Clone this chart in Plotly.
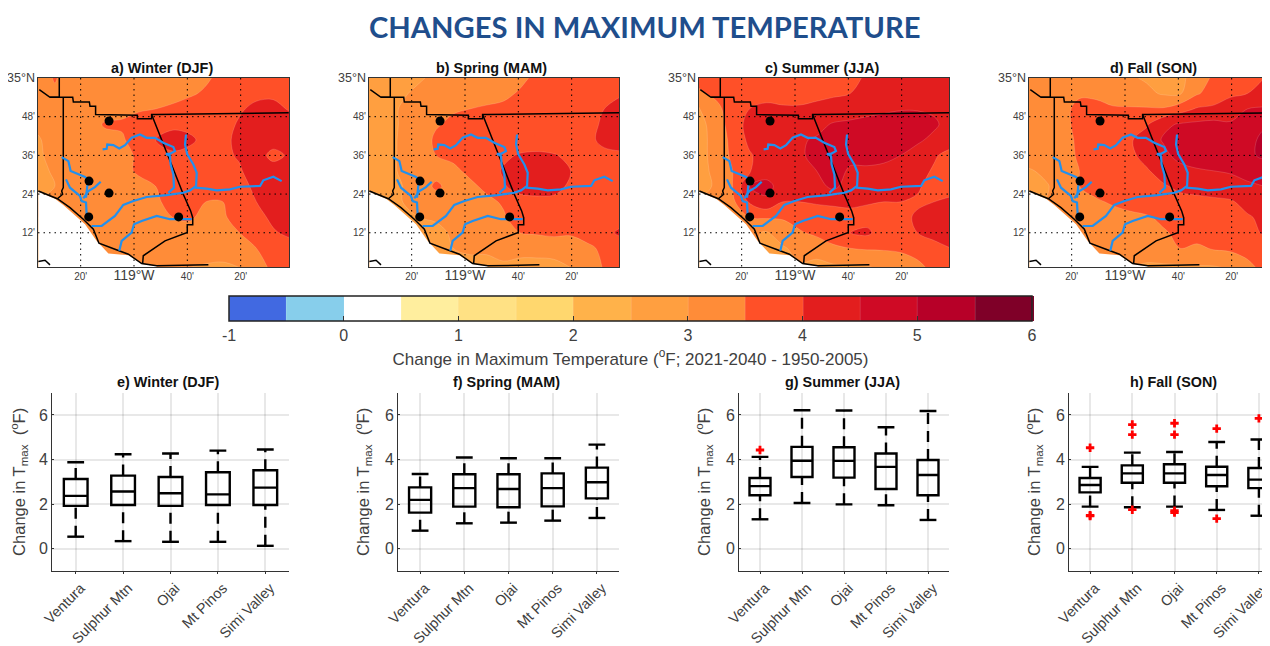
import plotly.graph_objects as go

# the page has an 8 px body margin: the chart area is the window less that margin
PAGE_OFFSET = 8
W, H = 1270 - PAGE_OFFSET, 646 - PAGE_OFFSET

lon_grid = [-119.60, -119.495, -119.39, -119.285, -119.18, -119.075, -118.97, -118.865,
            -118.76, -118.655, -118.55, -118.445, -118.34, -118.235, -118.13, -118.025]
lat_grid = [35.0, 34.92, 34.84, 34.76, 34.68, 34.60, 34.52, 34.44, 34.36, 34.28, 34.20, 34.12, 34.02]

z_winter = [
 [3.2,3.55,3.2,3.2,3.2,3.2,3.2,3.25,3.3,3.35,3.45,3.6,3.8,3.8,3.8,3.8],
 [3.2,3.4,3.2,3.25,3.3,3.3,3.3,3.35,3.4,3.45,3.55,3.7,3.85,3.9,3.9,3.85],
 [3.2,3.2,3.25,3.3,3.3,3.4,3.45,3.5,3.55,3.65,3.7,3.8,3.95,4.1,4.15,3.95],
 [3.1,3.2,3.3,3.3,3.55,3.55,3.7,3.75,3.85,3.85,3.8,3.85,4.05,4.2,4.3,4.2],
 [2.95,3.2,3.3,3.35,3.35,3.45,3.7,4.0,4.25,4.1,3.85,3.9,4.1,4.3,4.3,4.3],
 [2.95,3.1,3.3,3.3,3.3,3.4,3.55,3.8,3.9,3.85,3.85,3.9,4.05,4.3,3.8,4.1],
 [2.9,3.05,3.3,3.3,3.3,3.4,3.55,3.75,3.85,3.85,3.85,3.85,3.95,4.25,4.3,4.3],
 [2.9,3.0,3.3,3.3,3.3,3.35,3.4,3.5,3.8,3.85,3.8,3.8,3.85,4.1,4.3,4.3],
 [3.0,3.1,3.2,3.3,3.3,3.3,3.35,3.45,3.6,3.55,3.5,3.5,3.75,4.0,4.3,4.3],
 [3.0,3.1,3.25,3.3,3.3,3.3,3.3,3.35,3.5,3.55,3.4,3.45,3.65,3.85,4.1,4.3],
 [3.0,3.0,3.2,3.25,3.25,3.25,3.25,3.25,3.3,3.35,3.3,3.35,3.5,3.75,3.95,4.1],
 [3.0,3.0,3.1,3.2,3.2,3.2,3.2,3.2,3.2,3.2,3.2,3.25,3.35,3.5,3.65,3.8],
 [3.0,3.0,3.0,3.1,3.1,3.1,3.1,3.1,3.1,3.0,2.95,2.9,3.0,3.3,3.6,3.7],
]
z_spring = [
 [2.75,2.75,2.8,2.95,3.1,3.15,3.2,3.25,3.3,3.4,3.6,3.7,3.75,3.75,3.75,3.75],
 [2.75,2.75,2.95,3.1,3.2,3.25,3.3,3.35,3.4,3.55,3.65,3.7,3.75,3.8,3.85,3.95],
 [2.7,2.85,3.05,3.15,3.3,3.45,3.5,3.55,3.6,3.65,3.7,3.75,3.75,3.8,4.0,4.2],
 [2.7,2.85,3.05,3.2,3.45,3.6,3.7,3.7,3.7,3.7,3.7,3.7,3.75,3.8,4.1,4.25],
 [2.7,2.9,3.05,3.2,3.6,3.7,3.75,3.75,3.75,3.7,3.7,3.6,3.75,3.85,4.15,4.25],
 [2.7,2.9,3.05,3.2,3.5,3.6,3.7,3.8,3.9,4.05,4.1,4.05,3.85,3.8,3.85,3.9],
 [2.7,2.9,3.05,3.2,3.3,3.4,3.6,3.75,4.05,4.25,4.25,4.2,4.0,3.8,3.75,3.75],
 [2.7,2.9,3.0,3.2,3.6,3.3,3.4,3.6,3.95,4.2,4.25,4.2,3.9,3.75,3.7,3.7],
 [2.8,2.9,3.0,3.1,3.2,3.25,3.3,3.4,3.55,3.8,3.85,3.85,3.8,3.7,3.7,3.75],
 [2.8,2.85,2.9,3.0,3.05,3.1,3.2,3.3,3.45,3.7,3.75,3.75,3.7,3.7,3.75,3.8],
 [2.8,2.8,2.8,2.85,2.9,3.05,3.15,3.25,3.45,3.5,3.55,3.6,3.55,3.7,3.85,4.1],
 [2.8,2.8,2.8,2.75,2.8,3.0,3.05,3.05,3.1,3.15,3.15,3.2,3.3,3.4,3.6,3.7],
 [2.8,2.8,2.8,2.8,2.8,2.85,2.9,2.9,2.95,2.85,2.85,2.85,3.0,3.15,3.55,3.6],
]
z_summer = [
 [3.7,3.75,3.75,3.75,3.75,3.75,3.75,3.8,3.85,3.9,4.05,4.1,4.15,4.2,4.2,4.2],
 [3.4,3.65,3.85,3.85,3.85,3.85,3.85,3.9,3.95,4.0,4.15,4.2,4.2,4.25,4.25,4.2],
 [2.95,3.3,3.85,4.0,4.1,4.05,4.05,4.1,4.15,4.25,4.3,4.35,4.45,4.45,4.4,4.25],
 [2.85,3.2,3.75,4.15,4.3,4.3,4.3,4.35,4.55,4.6,4.7,4.85,4.9,4.85,4.6,4.25],
 [2.85,3.15,3.65,4.1,4.3,4.3,4.45,4.55,4.75,4.8,4.85,4.85,4.8,4.6,4.35,4.2],
 [2.85,3.15,3.6,3.95,4.2,4.25,4.45,4.6,4.55,4.6,4.7,4.65,4.5,4.25,4.05,3.85],
 [2.85,3.1,3.5,3.95,4.3,4.25,4.3,4.5,4.65,4.45,4.4,4.35,4.3,4.15,3.95,3.8],
 [2.85,3.05,3.5,4.5,4.65,4.3,4.2,4.35,4.6,4.3,4.25,4.2,4.15,4.05,3.85,3.8],
 [3.0,3.1,3.4,4.05,4.4,4.0,4.0,4.05,4.1,4.1,4.05,4.0,4.0,3.95,4.0,4.1],
 [3.0,3.1,3.3,3.5,3.55,3.55,3.7,3.75,3.75,3.85,3.8,3.75,3.9,4.05,4.15,4.25],
 [3.0,3.0,3.1,3.1,2.95,3.25,3.45,3.6,3.65,4.0,4.1,3.75,3.85,4.0,4.15,4.2],
 [3.0,3.0,3.0,3.1,2.9,2.95,3.15,3.2,3.45,3.5,3.55,3.55,3.6,3.65,3.85,4.0],
 [3.0,3.0,3.0,3.0,3.0,2.9,2.95,2.85,2.9,2.9,2.95,3.1,3.15,3.4,3.6,3.75],
]
z_fall = [
 [3.25,3.25,3.2,3.2,3.15,3.1,3.05,2.95,2.9,2.9,3.2,3.6,3.8,3.9,4.0,4.1],
 [3.2,3.2,3.25,3.45,3.4,3.3,3.2,3.1,2.95,2.95,3.45,3.7,3.9,4.0,4.2,4.3],
 [3.2,3.2,3.4,3.6,3.65,3.55,3.55,3.55,3.55,3.8,4.05,4.1,4.3,4.5,4.55,4.6],
 [3.2,3.25,3.4,3.6,3.7,3.75,3.75,3.95,4.4,4.55,4.6,4.65,4.55,4.6,4.9,5.0],
 [3.25,3.25,3.3,3.6,3.7,3.75,3.95,4.2,4.55,4.75,4.85,4.75,4.6,4.75,5.2,5.1],
 [3.25,3.25,3.35,3.55,3.7,3.75,3.9,4.15,4.35,4.7,4.75,4.85,4.85,4.95,5.05,5.05],
 [2.95,3.1,3.3,3.5,3.7,3.75,3.8,3.95,4.2,4.3,4.45,4.5,4.55,4.7,4.85,4.9],
 [2.8,2.95,3.2,3.5,3.65,3.7,3.75,3.8,3.95,4.1,4.2,4.25,4.3,4.4,4.5,4.6],
 [3.0,3.0,3.15,3.35,3.45,3.55,3.65,3.75,3.8,3.85,3.85,3.9,3.95,4.15,4.3,4.4],
 [3.0,3.0,3.1,3.2,3.3,3.35,3.4,3.45,3.6,3.75,3.75,3.8,3.8,3.95,4.1,4.2],
 [3.0,3.0,3.0,3.1,3.1,3.1,3.2,3.3,3.45,3.6,3.75,3.7,3.75,3.85,4.05,4.15],
 [3.0,3.0,3.0,3.05,3.05,3.1,3.1,3.3,3.4,3.5,3.4,3.55,3.6,3.7,3.8,3.85],
 [3.0,3.0,3.0,3.0,3.0,3.0,3.0,2.9,2.9,2.9,2.95,2.95,3.05,3.35,3.65,3.7],
]

level_colors = ["#4169E1", "#87CEEB", "#FFFFFF", "#FFEE9E", "#FFE184", "#FFD76E", "#FFB24A",
                "#FF9F40", "#FF8C38", "#FF5028", "#E31E1E", "#CF0A25", "#B70028", "#7F0028"]

ocean_lon = [-119.598,-119.494,-119.442,-119.306,-119.233,-119.160,-119.035,-118.952,-118.858,-118.858,-119.598]
ocean_lat = [34.412,34.376,34.344,34.244,34.158,34.093,34.084,34.038,34.027,34.02,34.02]

border_lon = [-119.598,-119.546,-119.479,-119.400,-119.317,-119.254,-119.219,-119.119,-119.035,-118.952,-118.858,-118.535,None,
              -119.592,-119.525,-119.467,-119.467,None,
              -119.525,-119.383,-119.379,-119.279,-119.275,-119.240,-119.240,-118.979,-118.979,-118.890,-118.890,-118.858,-118.033,None,
              -119.442,-119.442,-119.452,-119.446,-119.479,None,
              -118.890,-118.796,-118.692,-118.646,-118.633,-118.633,-118.667,-118.667,-118.806,-118.942,-118.946,None,
              -119.598,-119.556,-119.525]
border_lat = [34.416,34.399,34.376,34.330,34.270,34.218,34.146,34.115,34.089,34.041,34.029,34.034,None,
              34.940,34.900,34.900,35.0,None,
              34.900,34.900,34.876,34.876,34.854,34.854,34.811,34.808,34.789,34.789,34.811,34.811,34.820,None,
              34.900,34.433,34.416,34.399,34.376,None,
              34.811,34.613,34.399,34.313,34.278,34.241,34.241,34.201,34.158,34.081,34.041,None,
              34.052,34.058,34.034]

river_lon = [-119.196,-119.171,-119.167,-119.129,-119.092,-119.056,-119.015,-118.963,-118.921,-118.869,-118.817,-118.754,-118.744,-118.775,-118.800,-118.775,-118.771,-118.754,-118.750,-118.785,None,
             -118.675,-118.681,-118.667,-118.629,-118.608,-118.612,-118.650,-118.692,-118.796,-118.921,-119.004,-119.067,-119.119,-119.171,-119.202,-119.265,None,
             -118.077,-118.129,-118.192,-118.212,-118.338,-118.400,-118.483,-118.546,-118.619,None,
             -119.452,-119.410,-119.396,-119.306,-119.279,-119.292,-119.300,None,
             -119.425,-119.400,-119.338,-119.327,-119.300,-119.296,-119.300,None,
             -119.208,-119.244,-119.285,-119.317,None,
             -119.092,-119.077,-119.015,-119.000,-118.952,-118.858,-118.775,-118.640]
river_lat = [34.631,34.634,34.656,34.653,34.636,34.653,34.691,34.708,34.691,34.691,34.665,34.643,34.622,34.608,34.608,34.596,34.553,34.502,34.433,34.407,None,
             34.708,34.656,34.605,34.553,34.510,34.442,34.419,34.407,34.395,34.385,34.364,34.344,34.287,34.253,34.235,34.235,None,
             34.467,34.490,34.471,34.442,34.438,34.424,34.419,34.428,34.433,None,
             34.591,34.570,34.519,34.488,34.467,34.442,34.381,None,
             34.476,34.433,34.390,34.364,34.356,34.296,34.278,None,
             34.464,34.436,34.416,34.378,None,
             34.107,34.158,34.201,34.244,34.261,34.287,34.270,34.270]

station_lon = [-119.156, -119.281, -119.156, -119.283, -118.721]
station_lat = [34.778, 34.467, 34.405, 34.282, 34.282]

lon_ticks = [-119.3333, -119.0, -118.6667, -118.3333]
lon_labels = ["20'", "<span style='font-size:14px'>119°W</span>", "40'", "20'"]
lat_ticks = [35.0, 34.8, 34.6, 34.4, 34.2]
lat_labels = ["<span style='font-size:12.5px'>35°N</span>", "48'", "36'", "24'", "12'"]
cbar_ticks = [-1, 0, 1, 2, 3, 4, 5, 6]
cbar_labels = ["-1", "0", "1", "2", "3", "4", "5", "6"]

categories = ["Ventura", "Sulphur Mtn", "Ojai", "Mt Pinos", "Simi Valley"]

low_e = [0.54, 0.34, 0.31, 0.31, 0.13]
q1_e = [1.92, 1.96, 1.92, 1.96, 1.96]
med_e = [2.37, 2.57, 2.49, 2.44, 2.74]
q3_e = [3.13, 3.28, 3.22, 3.43, 3.52]
high_e = [3.88, 4.24, 4.27, 4.40, 4.45]

low_f = [0.81, 1.14, 1.17, 1.26, 1.38]
q1_f = [1.62, 1.89, 1.86, 1.90, 2.26]
med_f = [2.19, 2.72, 2.68, 2.72, 2.98]
q3_f = [2.75, 3.34, 3.34, 3.38, 3.64]
high_f = [3.35, 4.09, 4.06, 4.06, 4.67]

low_g = [1.32, 2.05, 1.99, 1.95, 1.29]
q1_g = [2.40, 3.22, 3.19, 2.68, 2.40]
med_g = [2.81, 3.95, 3.94, 3.67, 3.31]
q3_g = [3.17, 4.57, 4.55, 4.27, 3.98]
high_g = [4.12, 6.21, 6.20, 5.45, 6.18]

low_h = [1.89, 1.86, 1.89, 1.74, 1.48]
q1_h = [2.53, 2.96, 2.96, 2.80, 2.72]
med_h = [2.86, 3.38, 3.38, 3.31, 3.10]
q3_h = [3.17, 3.74, 3.79, 3.68, 3.62]
high_h = [3.67, 4.31, 4.34, 4.79, 4.90]

out_g_cat = ["Ventura"]
out_g_val = [4.43]
out_h_cat = ["Ventura", "Ventura", "Ventura", "Sulphur Mtn", "Sulphur Mtn", "Sulphur Mtn", "Ojai", "Ojai", "Ojai", "Ojai",
             "Mt Pinos", "Mt Pinos", "Simi Valley"]
out_h_val = [4.53, 1.47, 1.50, 5.57, 5.12, 1.75, 5.63, 5.12, 1.71, 1.62, 5.39, 1.35, 5.85]

TXT = "#404040"
FONT = "Liberation Sans"
fig = go.Figure()


def px_x(v):
    return (v - PAGE_OFFSET) / W


def px_y(v):
    return 1 - (v - PAGE_OFFSET) / H


colorscale = []
for i, c in enumerate(level_colors):
    colorscale += [[i / 14, c], [(i + 1) / 14, c]]

# (title, z, left px, right px, px of 119W, centre of title)
map_panels = [
    ("a) Winter (DJF)", z_winter, 38, 289, 134, 161.5),
    ("b) Spring (MAM)", z_spring, 369, 619, 465, 491),
    ("c) Summer (JJA)", z_summer, 699, 949, 795, 822),
    ("d) Fall (SON)", z_fall, 1029, 1270, 1125, 1153),
]
LAT_TOP, LAT_BOTTOM = 35.0, 34.023
annots = []
layout = {}
for n, (title, z, left, right, mid, tcx) in enumerate(map_panels, start=1):
    xa, ya = f"x{n}", f"y{n}"
    lon0 = -119 + (left - mid) / 160
    lon1 = -119 + (right - mid) / 160
    tr = dict(xaxis=xa, yaxis=ya, showlegend=False, hoverinfo="skip")
    cb = dict(orientation="h", x=px_x(229), xanchor="left", y=px_y(296), yanchor="top",
              len=803 / W, lenmode="fraction", thickness=25, thicknessmode="pixels",
              xpad=0, ypad=0, outlinecolor="#222", outlinewidth=1.5,
              ticks="inside", ticklen=5, tickcolor="#333", tickwidth=1,
              tickmode="array", tickvals=cbar_ticks, ticktext=cbar_labels,
              tickfont=dict(family=FONT, size=16, color=TXT),
              title=dict(text="Change in Maximum Temperature (<sup>o</sup>F; 2021-2040 - 1950-2005)",
                         side="bottom", font=dict(family=FONT, size=17, color=TXT)))
    contour_kw = dict(colorbar=cb) if n == 1 else {}
    fig.add_trace(go.Contour(x=lon_grid, y=lat_grid, z=z, autocontour=False, zmin=-1, zmax=6,
                             contours=dict(start=-1, end=6, size=0.5, coloring="fill", showlines=True),
                             line=dict(color="rgba(255,255,255,0.3)", width=0.5),
                             colorscale=colorscale, showscale=(n == 1), **contour_kw, **tr))
    fig.add_trace(go.Scatter(x=ocean_lon, y=ocean_lat, mode="lines", fill="toself", fillcolor="white",
                             line=dict(width=0), **tr))
    grid_x, grid_y = [], []
    for t in lon_ticks:
        grid_x += [t, t, None]
        grid_y += [LAT_TOP, LAT_BOTTOM, None]
    for t in lat_ticks[1:]:
        grid_x += [lon0, lon1, None]
        grid_y += [t, t, None]
    fig.add_trace(go.Scatter(x=grid_x, y=grid_y, mode="lines",
                             line=dict(color="black", width=1, dash="1.5px,4px"), **tr))
    fig.add_trace(go.Scatter(x=border_lon, y=border_lat, mode="lines",
                             line=dict(color="black", width=1.5), **tr))
    fig.add_trace(go.Scatter(x=river_lon, y=river_lat, mode="lines",
                             line=dict(color="#2190EE", width=2.2), **tr))
    fig.add_trace(go.Scatter(x=station_lon, y=station_lat, mode="markers",
                             marker=dict(color="black", size=9), **tr))
    layout[f"xaxis{n}"] = dict(domain=[px_x(left), px_x(right)], range=[lon0, lon1], anchor=ya,
                               tickmode="array", tickvals=lon_ticks, ticktext=lon_labels,
                               tickfont=dict(family=FONT, size=10, color=TXT), ticks="", showgrid=False,
                               zeroline=False, showline=True, mirror=True, linecolor="#333", linewidth=1)
    layout[f"yaxis{n}"] = dict(domain=[px_y(267), px_y(78)], range=[LAT_BOTTOM, LAT_TOP], anchor=xa,
                               tickmode="array", tickvals=lat_ticks, ticktext=lat_labels,
                               tickfont=dict(family=FONT, size=10, color=TXT), ticks="", showgrid=False,
                               zeroline=False, showline=True, mirror=True, linecolor="#333", linewidth=1)
    annots.append(dict(text=f"<b>{title}</b>", x=px_x(tcx), y=px_y(68), xref="paper", yref="paper",
                       xanchor="center", yanchor="middle", showarrow=False,
                       font=dict(family=FONT, size=14.4, color="#111")))

# (title, stats, left px, spacing px, right px, centre of title, outliers)
box_panels = [
    ("e) Winter (DJF)", (low_e, q1_e, med_e, q3_e, high_e), 52, 47.4, 289, 168, None),
    ("f) Spring (MAM)", (low_f, q1_f, med_f, q3_f, high_f), 398, 44.2, 619, 506, None),
    ("g) Summer (JJA)", (low_g, q1_g, med_g, q3_g, high_g), 739, 42, 949, 842.7, (out_g_cat, out_g_val)),
    ("h) Fall (SON)", (low_h, q1_h, med_h, q3_h, high_h), 1069, 42.2, 1270, 1173, (out_h_cat, out_h_val)),
]
for n, (title, stats, left, step, right, tcx, outliers) in enumerate(box_panels, start=5):
    low, q1, med, q3, high = stats
    xa, ya = f"x{n}", f"y{n}"
    tr = dict(xaxis=xa, yaxis=ya, showlegend=False, hoverinfo="skip")
    fig.add_trace(go.Box(x=categories, q1=q1, median=med, q3=q3, lowerfence=q1, upperfence=q3,
                         boxpoints=False, width=0.5, fillcolor="rgba(0,0,0,0)",
                         line=dict(color="black", width=2.4), **tr))
    wx, wy = [], []
    for c, a, b, d, e in zip(categories, low, q1, q3, high):
        wx += [c, c, None, c, c, None]
        wy += [a, b, None, d, e, None]
    fig.add_trace(go.Scatter(x=wx, y=wy, mode="lines",
                             line=dict(color="black", width=2.4, dash="11px,7px"), **tr))
    fig.add_trace(go.Scatter(x=categories + categories, y=low + high, mode="markers",
                             marker=dict(symbol="line-ew", size=12, line=dict(color="black", width=2.4)), **tr))
    if outliers:
        fig.add_trace(go.Scatter(x=outliers[0], y=outliers[1], mode="markers",
                                 marker=dict(symbol="cross", size=7, color="red"), **tr))
    layout[f"xaxis{n}"] = dict(domain=[px_x(left), px_x(right)], range=[-0.5, -0.5 + (right - left) / step],
                               anchor=ya, type="category", categoryorder="array", categoryarray=categories,
                               tickangle=-45, tickfont=dict(family=FONT, size=14.5, color=TXT),
                               ticklabelshift=5,
                               ticks="outside", ticklen=2, tickcolor="#333",
                               showgrid=True, gridcolor="rgba(0,0,0,0.09)", gridwidth=1.5,
                               zeroline=False, showline=True, linecolor="#333", linewidth=1)
    layout[f"yaxis{n}"] = dict(domain=[px_y(571), px_y(392.7)], range=[-1, 7], anchor=xa,
                               tickvals=[0, 2, 4, 6], tickfont=dict(family=FONT, size=16, color=TXT),
                               ticks="inside", ticklen=2, tickcolor="#333",
                               title=dict(text="Change in T<sub>max</sub>  (<sup>o</sup>F)", standoff=11,
                                          font=dict(family=FONT, size=16.5, color=TXT)),
                               showgrid=True, gridcolor="rgba(0,0,0,0.09)", gridwidth=1.5,
                               zeroline=False, showline=True, linecolor="#333", linewidth=1)
    annots.append(dict(text=f"<b>{title}</b>", x=px_x(tcx), y=px_y(382), xref="paper", yref="paper",
                       xanchor="center", yanchor="middle", showarrow=False,
                       font=dict(family=FONT, size=14.4, color="#111")))

annots.append(dict(text="<b>CHANGES IN MAXIMUM TEMPERATURE</b>", x=px_x(644), y=px_y(26), xref="paper", yref="paper",
                   xanchor="center", yanchor="middle", showarrow=False,
                   font=dict(family="Lato", size=29.2, color="#1F4E8C")))

fig.update_layout(width=W, height=H, margin=dict(l=0, r=0, t=0, b=0, pad=0, autoexpand=False),
                  paper_bgcolor="white", plot_bgcolor="white", annotations=annots, showlegend=False, **layout)
fig.write_html("out.html")
